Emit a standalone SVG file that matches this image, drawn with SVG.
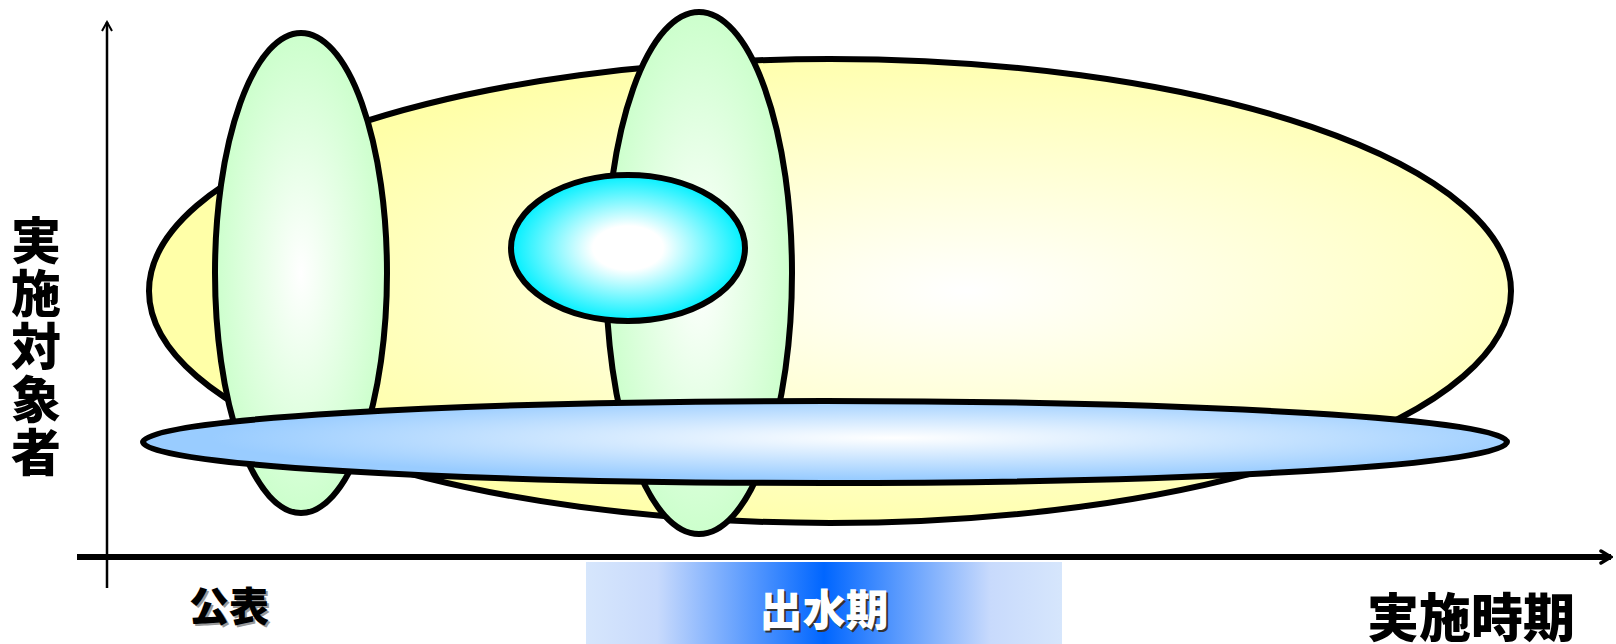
<svg xmlns="http://www.w3.org/2000/svg" width="1616" height="644" viewBox="0 0 1616 644">
<defs>
<radialGradient id="gY" cx="0.6" cy="0.5" r="0.55">
<stop offset="0" stop-color="#FFFFFF"/><stop offset="1" stop-color="#FFFFA8"/>
</radialGradient>
<radialGradient id="gG" cx="0.5" cy="0.5" r="0.5">
<stop offset="0" stop-color="#FFFFFF"/><stop offset="1" stop-color="#CCFFCC"/>
</radialGradient>
<radialGradient id="gC" cx="0.5" cy="0.5" r="0.5">
<stop offset="0.3" stop-color="#FFFFFF"/><stop offset="1" stop-color="#00F0FF"/>
</radialGradient>
<radialGradient id="gB" cx="0.55" cy="0.45" r="0.5">
<stop offset="0" stop-color="#FFFFFF"/><stop offset="1" stop-color="#99CCFF"/>
</radialGradient>
<linearGradient id="gBand" x1="0" y1="0" x2="1" y2="0">
<stop offset="0" stop-color="#D6E6FC"/><stop offset="0.15" stop-color="#C8DAFC"/><stop offset="0.5" stop-color="#0066FF"/><stop offset="0.85" stop-color="#C8DAFC"/><stop offset="1" stop-color="#D6E6FC"/>
</linearGradient>
<marker id="arr" viewBox="0 0 12 12" refX="10" refY="6" markerWidth="12" markerHeight="12" markerUnits="userSpaceOnUse" orient="auto">
<path d="M1,1 L10,6 L1,11" fill="none" stroke="#000" stroke-width="2"/>
</marker>
<marker id="arrB" viewBox="0 0 14 16" refX="12" refY="8" markerWidth="14" markerHeight="16" markerUnits="userSpaceOnUse" orient="auto">
<path d="M2,2 L12,8 L2,14" fill="none" stroke="#000" stroke-width="3.5" stroke-linecap="round"/>
</marker>
</defs>
<style>
.e{stroke:#000;stroke-width:6}
.t{font-family:"Noto Sans CJK JP","Noto Sans CJK SC",sans-serif;font-weight:900}
</style>
<g id="axes">
<line x1="107" y1="588" x2="107" y2="22" stroke="#000" stroke-width="2.5" marker-end="url(#arr)"/>
<line x1="77" y1="557" x2="1611" y2="557" stroke="#000" stroke-width="6" marker-end="url(#arrB)"/>
</g>
<g id="band">
<rect x="586" y="562" width="476" height="82" fill="url(#gBand)"/>
<text x="826" y="628" class="t" font-size="43" text-anchor="middle" fill="#333">出水期</text>
<text x="824" y="626" class="t" font-size="43" text-anchor="middle" fill="#FFFFFF">出水期</text>
</g>
<g id="yellow"><ellipse cx="830" cy="291" rx="681" ry="232" fill="url(#gY)" class="e"/></g>
<g id="green1"><ellipse cx="301" cy="273" rx="86" ry="240" fill="url(#gG)" class="e" stroke-width="5"/></g>
<g id="green2"><ellipse cx="699" cy="273" rx="93" ry="261" fill="url(#gG)" class="e" stroke-width="5"/></g>
<g id="cyan"><ellipse cx="628" cy="248" rx="117" ry="73" fill="url(#gC)" class="e"/></g>
<g id="blue"><ellipse cx="825" cy="442" rx="682" ry="41" fill="url(#gB)" class="e"/></g>
<g id="labels">
<text x="231" y="623" class="t" font-size="40" text-anchor="middle" fill="#999">公表</text>
<text x="229" y="621" class="t" font-size="40" text-anchor="middle" fill="#000">公表</text>
<text x="1471" y="637" class="t" font-size="52" text-anchor="middle" fill="#000">実施時期</text>
<text class="t" font-size="50" text-anchor="middle" fill="#000">
<tspan x="36" y="259">実</tspan><tspan x="36" y="312">施</tspan><tspan x="36" y="365">対</tspan><tspan x="36" y="418">象</tspan><tspan x="36" y="471">者</tspan>
</text>
</g>
</svg>
